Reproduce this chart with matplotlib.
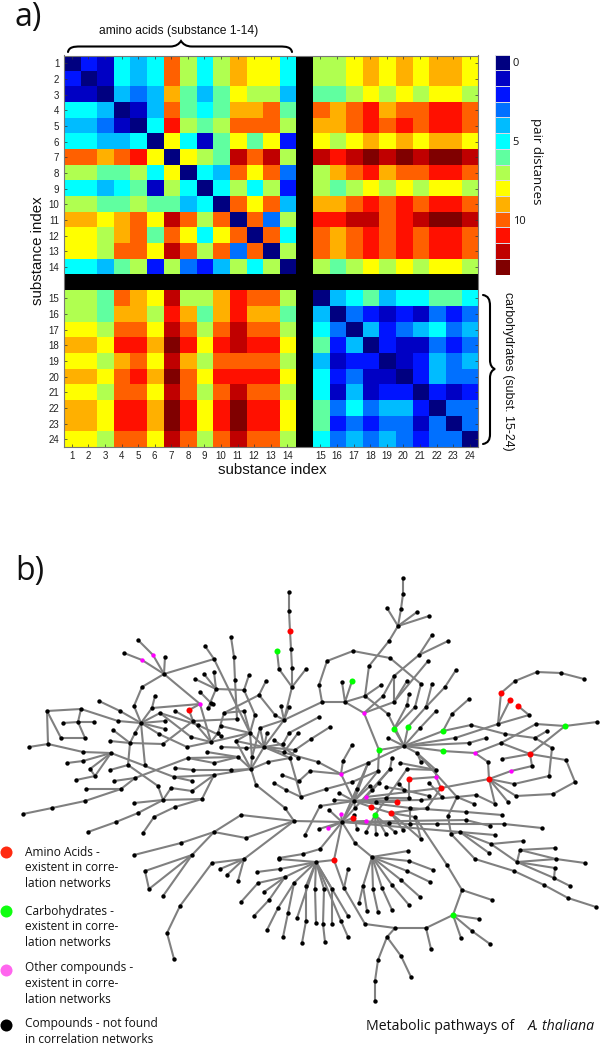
import numpy as np
import matplotlib
matplotlib.use('Agg')
import matplotlib.pyplot as plt
from matplotlib.colors import ListedColormap
from matplotlib.path import Path
from matplotlib.patches import PathPatch

level_colors = ['#000080', '#0000c4', '#0014ff', '#0070ff', '#00bcff', '#00ffff', '#60ffa0',
                '#b0ff50', '#ffff00', '#ffb000', '#ff6000', '#ff1000', '#c00000', '#800000']

amino_amino = [
    [0, 2, 1, 5, 4, 5, 10, 7, 5, 7, 9, 8, 8, 5],
    [2, 0, 1, 5, 4, 5, 10, 7, 5, 7, 9, 8, 8, 5],
    [1, 1, 0, 4, 3, 4, 9, 6, 4, 6, 8, 7, 7, 4],
    [5, 5, 4, 0, 1, 4, 10, 6, 5, 6, 9, 9, 10, 6],
    [4, 4, 3, 1, 0, 5, 11, 7, 6, 7, 10, 10, 10, 7],
    [5, 5, 4, 4, 5, 0, 8, 5, 1, 6, 8, 6, 8, 2],
    [10, 10, 9, 10, 11, 8, 0, 8, 7, 6, 12, 10, 12, 7],
    [7, 7, 6, 6, 7, 5, 8, 0, 5, 4, 10, 8, 10, 3],
    [5, 5, 4, 5, 6, 1, 7, 5, 0, 5, 7, 5, 7, 2],
    [7, 7, 6, 6, 7, 6, 6, 4, 5, 0, 10, 8, 10, 4],
    [9, 9, 8, 9, 10, 8, 12, 10, 7, 10, 0, 10, 3, 7],
    [8, 8, 7, 9, 10, 6, 10, 8, 5, 8, 10, 0, 10, 5],
    [8, 8, 7, 10, 10, 8, 12, 10, 7, 10, 3, 10, 0, 7],
    [5, 5, 4, 6, 7, 2, 7, 3, 2, 4, 7, 5, 7, 0],
]
amino_carb = [
    [7, 7, 8, 9, 8, 9, 8, 9, 9, 8],
    [7, 7, 8, 9, 8, 9, 8, 9, 9, 8],
    [6, 6, 7, 8, 7, 8, 7, 8, 8, 7],
    [10, 9, 10, 11, 9, 10, 10, 11, 11, 10],
    [9, 9, 10, 11, 10, 11, 10, 11, 11, 10],
    [8, 7, 8, 9, 8, 9, 8, 9, 9, 8],
    [12, 11, 12, 13, 12, 13, 12, 13, 13, 12],
    [7, 9, 10, 11, 9, 10, 10, 11, 11, 10],
    [7, 6, 7, 8, 7, 8, 7, 8, 8, 7],
    [9, 9, 10, 11, 10, 11, 10, 11, 11, 10],
    [11, 11, 12, 12, 10, 11, 12, 13, 13, 12],
    [10, 9, 10, 11, 10, 11, 10, 11, 11, 10],
    [10, 9, 10, 11, 10, 11, 10, 11, 11, 10],
    [7, 6, 7, 8, 7, 8, 7, 8, 8, 7],
]
carb_amino = [
    [7, 7, 6, 10, 9, 8, 12, 7, 7, 9, 11, 10, 10, 7],
    [7, 7, 6, 9, 9, 7, 11, 9, 6, 9, 11, 9, 9, 6],
    [8, 8, 7, 10, 10, 8, 12, 10, 7, 10, 12, 10, 10, 7],
    [9, 9, 8, 11, 11, 9, 13, 11, 8, 11, 12, 11, 11, 8],
    [8, 8, 7, 9, 10, 8, 12, 9, 7, 10, 10, 10, 10, 7],
    [9, 9, 8, 10, 11, 9, 13, 10, 8, 11, 11, 11, 11, 8],
    [8, 8, 7, 10, 10, 8, 12, 10, 7, 10, 12, 10, 10, 7],
    [9, 9, 8, 11, 11, 9, 13, 11, 8, 11, 13, 11, 11, 8],
    [9, 9, 8, 11, 11, 9, 13, 11, 8, 11, 13, 11, 11, 8],
    [8, 8, 7, 10, 10, 8, 12, 10, 7, 10, 12, 10, 10, 7],
]
carb_carb = [
    [0, 4, 5, 6, 4, 5, 5, 6, 6, 5],
    [4, 0, 3, 2, 1, 2, 1, 3, 2, 3],
    [5, 3, 0, 4, 2, 3, 4, 5, 3, 4],
    [6, 2, 4, 0, 2, 1, 1, 3, 2, 3],
    [4, 1, 2, 2, 0, 1, 2, 4, 3, 4],
    [5, 2, 3, 1, 1, 0, 2, 4, 3, 3],
    [5, 1, 4, 1, 2, 2, 0, 2, 1, 2],
    [6, 3, 5, 3, 4, 4, 2, 0, 3, 3],
    [6, 2, 3, 2, 3, 3, 1, 3, 0, 3],
    [5, 3, 4, 3, 4, 3, 2, 3, 3, 0],
]
substance_labels = [str(i) for i in range(1, 25)]
colorbar_labels = {0: '0', 5: '5', 10: '10'}

# pathway branches, vertices in pixels
pathways = [
    [(138, 640), (153, 655), (164, 674)],
    [(124, 653), (142, 660), (164, 674)],
    [(165, 657), (164, 674)],
    [(205, 646), (214, 659), (164, 674), (142, 687), (134, 706), (141, 723)],
    [(164, 674), (200, 704), (211, 742)],
    [(214, 659), (250, 733)],
    [(200, 704), (189, 710), (193, 721)],
    [(155, 696), (152, 708), (141, 723)],
    [(152, 708), (200, 704)],
    [(99, 701), (120, 711), (141, 723)],
    [(47, 711), (81, 709), (118, 721), (141, 723)],
    [(81, 709), (78, 722), (85, 738), (61, 738), (47, 711)],
    [(63, 723), (78, 722), (94, 722)],
    [(47, 711), (48, 744), (29, 747)],
    [(48, 744), (83, 752), (111, 753)],
    [(67, 763), (83, 761), (111, 753)],
    [(90, 769), (95, 776), (111, 753)],
    [(90, 769), (111, 753)],
    [(95, 776), (76, 780)],
    [(111, 753), (174, 777), (192, 781)],
    [(174, 777), (214, 775), (251, 769)],
    [(141, 723), (135, 733), (130, 743), (113, 730)],
    [(110, 741), (130, 743), (163, 744)],
    [(130, 743), (128, 765), (110, 770)],
    [(128, 765), (158, 786), (163, 800)],
    [(141, 723), (145, 765)],
    [(141, 723), (159, 734), (187, 747), (211, 742), (250, 733)],
    [(141, 723), (165, 721)],
    [(141, 723), (165, 729)],
    [(141, 723), (160, 713), (191, 737), (211, 742)],
    [(160, 713), (198, 725), (221, 736)],
    [(175, 711), (193, 721), (211, 742)],
    [(163, 744), (193, 721), (237, 719)],
    [(195, 679), (216, 689), (244, 690), (249, 675)],
    [(204, 674), (216, 689)],
    [(214, 672), (216, 689)],
    [(216, 689), (208, 708)],
    [(200, 692), (211, 703)],
    [(213, 704), (208, 708)],
    [(231, 637), (234, 657), (235, 680), (237, 719)],
    [(244, 690), (255, 715), (250, 733)],
    [(266, 681), (259, 695), (224, 713), (218, 733), (211, 742)],
    [(259, 695), (275, 715), (284, 720)],
    [(224, 713), (244, 711), (250, 733)],
    [(221, 726), (250, 733)],
    [(250, 733), (236, 741), (251, 769)],
    [(250, 733), (264, 747)],
    [(236, 741), (264, 747)],
    [(221, 747), (246, 748), (264, 747)],
    [(250, 733), (252, 757), (251, 769)],
    [(251, 769), (231, 770), (193, 770), (175, 768)],
    [(251, 769), (264, 747)],
    [(251, 769), (256, 785), (285, 808), (294, 821)],
    [(188, 758), (238, 757), (251, 769)],
    [(188, 758), (214, 763), (238, 757)],
    [(207, 752), (238, 757)],
    [(188, 758), (135, 778), (121, 789), (86, 789)],
    [(114, 781), (135, 778)],
    [(214, 775), (192, 791), (171, 788), (163, 800)],
    [(214, 775), (202, 799), (163, 800)],
    [(163, 800), (134, 803)],
    [(23, 814), (52, 808), (85, 801), (121, 789)],
    [(202, 799), (175, 807), (154, 817), (143, 833)],
    [(88, 832), (116, 822), (138, 813), (163, 800)],
    # top centre
    [(289, 592), (289, 611), (290, 631), (291, 649), (292, 668), (292, 687), (284, 720)],
    [(277, 651), (279, 669), (292, 687)],
    [(281, 706), (284, 720)],
    [(289, 707), (284, 720)],
    [(306, 669), (292, 687)],
    [(284, 720), (322, 702)],
    [(284, 720), (264, 747)],
    [(284, 720), (260, 728), (252, 757)],
    [(264, 747), (267, 733)],
    [(260, 728), (264, 747)],
    [(319, 717), (289, 733), (283, 744), (264, 747)],
    [(330, 727), (311, 739), (295, 750), (290, 758), (264, 747)],
    [(274, 740), (298, 758)],
    [(298, 733), (284, 752)],
    [(268, 762), (290, 758)],
    [(251, 769), (268, 762)],
    [(264, 747), (295, 750)],
    [(264, 747), (318, 762), (341, 774)],
    [(290, 758), (301, 797)],
    [(310, 771), (341, 774)],
    [(282, 775), (299, 781), (310, 771)],
    [(274, 783), (286, 790), (301, 797)],
    [(352, 745), (343, 761), (341, 774)],
    [(341, 774), (354, 801)],
    [(341, 774), (368, 763), (404, 746)],
    [(368, 763), (354, 801)],
    [(378, 771), (354, 801)],
    # top right tree
    [(403, 578), (403, 594), (401, 609), (398, 626), (389, 641), (369, 666), (365, 696), (345, 702)],
    [(387, 608), (398, 626)],
    [(417, 612), (398, 626)],
    [(429, 616), (398, 626)],
    [(342, 682), (345, 702), (352, 681)],
    [(345, 702), (322, 702), (319, 685), (327, 661), (353, 651), (390, 658), (421, 684), (415, 707), (394, 729)],
    [(345, 702), (364, 713), (379, 750)],
    [(365, 696), (381, 685)],
    [(365, 696), (388, 714), (404, 746)],
    [(448, 641), (419, 655), (432, 635)],
    [(419, 655), (394, 676), (383, 696), (364, 713)],
    [(394, 676), (394, 702), (364, 713)],
    [(428, 661), (394, 702)],
    [(407, 681), (394, 702)],
    [(409, 694), (407, 705), (394, 729)],
    [(432, 684), (426, 707), (408, 727)],
    [(456, 670), (445, 687), (426, 707)],
    [(436, 711), (420, 728), (404, 746)],
    [(394, 729), (404, 746)],
    [(408, 727), (404, 746)],
    [(469, 699), (452, 714), (443, 731), (404, 746)],
    [(443, 731), (471, 725), (505, 734), (535, 738), (552, 748), (549, 776), (514, 784), (489, 779)],
    [(388, 738), (404, 746)],
    [(379, 750), (404, 746)],
    [(379, 750), (378, 771)],
    [(404, 746), (455, 738), (498, 724)],
    [(501, 693), (498, 724)],
    [(510, 700), (498, 724)],
    [(518, 706), (529, 715), (498, 724)],
    [(501, 693), (515, 681), (537, 672), (561, 673), (584, 679)],
    [(404, 746), (443, 751), (475, 753), (501, 743), (536, 724), (565, 726), (597, 722)],
    [(547, 731), (535, 738)],
    [(565, 726), (530, 754), (501, 743)],
    [(530, 754), (502, 759)],
    [(530, 754), (566, 760), (575, 782), (553, 794), (516, 796), (489, 779)],
    [(475, 753), (488, 762), (489, 779)],
    [(489, 779), (511, 771), (532, 766), (530, 754)],
    [(489, 779), (508, 802)],
    [(489, 779), (495, 804)],
    [(489, 779), (441, 788)],
    [(404, 746), (469, 743), (486, 738)],
    [(404, 746), (417, 753), (436, 770)],
    [(417, 753), (421, 762)],
    [(417, 753), (457, 797), (476, 795), (495, 804)],
    [(457, 797), (474, 804)],
    [(457, 797), (448, 816), (451, 834)],
    [(400, 763), (436, 770)],
    [(407, 769), (436, 770)],
    [(436, 770), (436, 777), (441, 788)],
    [(409, 779), (436, 777)],
    [(409, 779), (409, 798)],
    [(441, 788), (427, 808)],
    [(441, 788), (366, 797)],
    [(392, 758), (390, 769), (372, 790)],
    [(301, 797), (326, 789), (352, 782), (378, 771)],
    [(357, 789), (354, 801)],
    [(370, 786), (354, 801)],
    [(379, 783), (366, 797)],
    [(386, 787), (404, 790), (429, 796)],
    [(399, 784), (404, 790)],
    [(429, 783), (442, 797)],
    [(390, 769), (355, 808)],
    [(407, 769), (375, 815)],
    [(368, 763), (342, 822)],
    # centre to right
    [(339, 793), (354, 801)],
    [(334, 800), (354, 801)],
    [(320, 806), (354, 801)],
    [(354, 801), (376, 802), (397, 802)],
    [(354, 801), (386, 798), (409, 798)],
    [(354, 801), (421, 800), (457, 797)],
    [(354, 801), (355, 808), (342, 822)],
    [(354, 801), (342, 822)],
    [(354, 801), (371, 807), (391, 813), (415, 817)],
    [(354, 801), (410, 808), (466, 812), (502, 815)],
    [(427, 808), (391, 813)],
    [(329, 810), (342, 822)],
    [(341, 814), (342, 822)],
    [(353, 818), (342, 822)],
    [(375, 815), (376, 834)],
    [(366, 821), (342, 822)],
    [(342, 822), (389, 823), (410, 824), (437, 824)],
    [(342, 822), (466, 820), (490, 826)],
    [(342, 822), (460, 832), (495, 835)],
    [(294, 821), (342, 822)],
    [(410, 808), (410, 824)],
    [(357, 829), (354, 815)],
    [(366, 832), (375, 815)],
    [(386, 834), (375, 815)],
    [(395, 832), (375, 815)],
    [(403, 830), (391, 813)],
    [(421, 839), (391, 813)],
    [(328, 828), (342, 822)],
    [(319, 829), (342, 822)],
    [(305, 835), (320, 806)],
    [(303, 854), (320, 849), (342, 822)],
    [(279, 858), (303, 854)],
    [(342, 822), (355, 843), (372, 857)],
    [(342, 822), (334, 860), (316, 862)],
    [(334, 860), (344, 888), (365, 924), (395, 928), (426, 928), (453, 915)],
    [(348, 869), (344, 888)],
    [(426, 928), (431, 949)],
    [(395, 928), (387, 937), (378, 960), (375, 981), (375, 1001)],
    [(387, 937), (401, 956), (411, 977)],
    [(453, 915), (479, 919)],
    [(453, 915), (472, 931), (490, 944)],
    [(453, 915), (461, 938)],
    [(453, 915), (462, 890), (447, 865), (415, 817)],
    [(462, 890), (492, 900)],
    [(372, 857), (408, 851)],
    [(372, 857), (409, 861), (433, 870)],
    [(372, 857), (407, 871), (430, 882)],
    [(372, 857), (401, 880), (420, 897)],
    [(372, 857), (392, 885), (409, 905)],
    [(372, 857), (382, 888), (392, 910)],
    [(372, 857), (373, 889), (378, 912)],
    [(372, 857), (363, 886), (367, 911)],
    [(363, 886), (359, 903)],
    [(316, 862), (306, 886), (306, 921), (302, 943)],
    [(316, 862), (315, 889), (316, 923)],
    [(316, 862), (324, 889), (323, 924), (325, 942)],
    [(316, 862), (332, 889), (332, 924)],
    [(316, 862), (341, 921), (348, 937)],
    [(316, 862), (348, 916)],
    [(316, 862), (279, 859)],
    [(316, 862), (280, 869), (257, 872)],
    [(316, 862), (285, 877), (258, 883), (241, 902)],
    [(285, 877), (264, 892)],
    [(285, 877), (269, 900), (254, 916)],
    [(316, 862), (294, 883), (278, 908), (267, 930)],
    [(294, 883), (288, 913), (283, 937)],
    [(316, 862), (297, 918)],
    # lower left tree
    [(134, 855), (181, 843), (214, 832), (241, 815), (294, 821)],
    [(214, 832), (246, 838), (294, 821)],
    [(214, 832), (192, 855), (145, 871), (149, 889), (192, 855)],
    [(192, 855), (163, 896)],
    [(180, 906), (212, 863), (244, 859), (220, 869)],
    [(180, 906), (167, 933), (174, 959)],
    [(244, 859), (227, 875)],
    [(244, 859), (238, 881)],
    [(244, 859), (294, 821)],
    # lower right
    [(451, 834), (460, 832)],
    [(460, 832), (491, 844), (517, 862)],
    [(460, 832), (489, 853)],
    [(451, 834), (475, 859), (514, 871), (544, 885), (568, 898), (596, 907)],
    [(491, 844), (523, 841)],
    [(520, 850), (555, 848)],
    [(520, 850), (556, 859), (585, 863)],
    [(517, 862), (520, 850)],
    [(517, 862), (556, 859)],
    [(517, 862), (555, 868), (554, 878), (517, 862)],
    [(554, 878), (570, 886)],
    [(504, 824), (542, 828)],
    [(437, 824), (504, 824)],
    [(415, 817), (421, 839)],
]

red_nodes = [(290, 631), (189, 710), (501, 693), (510, 700), (518, 706), (530, 754), (489, 779),
             (441, 788), (409, 779), (397, 802), (371, 807), (391, 813), (353, 818), (334, 860)]
green_nodes = [(277, 651), (352, 681), (394, 729), (408, 727), (443, 731), (379, 750), (443, 751),
               (565, 726), (375, 815), (453, 915)]
pink_nodes = [(153, 655), (142, 660), (200, 704), (364, 713), (475, 753), (511, 771), (341, 774),
              (436, 777), (366, 797), (341, 814), (366, 821), (328, 828)]

legend_entries = [
    ('#ff2a10', 852, 'Amino Acids -\nexistent in corre-\nlation networks', 852),
    ('#10ff10', 911, 'Carbohydrates -\nexistent in corre-\nlation networks', 911),
    ('#ff66ee', 970, 'Other compounds -\nexistent in corre-\nlation networks', 968),
    ('#000000', 1025, 'Compounds - not found\nin correlation networks', 1024),
]

W, H = 600, 1045
fig = plt.figure(figsize=(W / 100, H / 100), dpi=100, facecolor='white')


def px_axes(x0, y0, x1, y1):
    return fig.add_axes([x0 / W, 1 - y1 / H, (x1 - x0) / W, (y1 - y0) / H])


# overlay in pixel coordinates
bg = fig.add_axes([0, 0, 1, 1])
bg.set_xlim(0, W)
bg.set_ylim(H, 0)
bg.axis('off')

# heatmap, black row and column between the two groups
matrix = np.block([
    [np.array(amino_amino, float), np.full((14, 1), np.nan), np.array(amino_carb, float)],
    [np.full((1, 25), np.nan)],
    [np.array(carb_amino, float), np.full((10, 1), np.nan), np.array(carb_carb, float)],
])
cmap = ListedColormap(level_colors)
cmap.set_bad('black')

ax = px_axes(63.5, 55.5, 478, 447)
ax.imshow(np.ma.masked_invalid(matrix), cmap=cmap, vmin=-0.5, vmax=13.5, aspect='auto', interpolation='nearest')
tick_pos = list(range(14)) + list(range(15, 25))
ax.set_xticks(tick_pos)
ax.set_yticks(tick_pos)
ax.set_xticklabels(substance_labels, family='Liberation Sans', fontsize=7, color='#222222')
ax.set_yticklabels(substance_labels, family='Liberation Sans', fontsize=7, color='#222222')
ax.tick_params(direction='in', length=2.5, width=0.5, color='#333333', top=True, right=True, pad=3)
for s in ax.spines.values():
    s.set_color('#777777')
    s.set_linewidth(0.8)

# colour bar
cb = px_axes(494.5, 54.5, 510, 274.5)
cb.pcolormesh(np.arange(14)[:, None], cmap=ListedColormap(level_colors), vmin=-0.5, vmax=13.5,
              edgecolors='#d8d8e4', linewidth=0.5)
cb.set_ylim(14, 0)
cb.set_xticks([])
cb.set_yticks([k + 0.5 for k in colorbar_labels])
cb.set_yticklabels(list(colorbar_labels.values()), family='Open Sans', fontsize=8, color='#111111')
cb.yaxis.tick_right()
cb.tick_params(length=0, pad=2)
for s in cb.spines.values():
    s.set_visible(False)

# panel text
bg.text(15, 26, 'a)', family='Open Sans', fontsize=23, color='#111111', ha='left', va='baseline')
bg.text(15, 580, 'b)', family='Open Sans', fontsize=23, color='#111111', ha='left', va='baseline')
bg.text(179, 31, 'amino acids (substance 1-14)', family='Liberation Sans', fontsize=8.7, color='#111111',
        ha='center', va='center')
bg.text(272, 469.5, 'substance index', family='Liberation Sans', fontsize=10.8, color='#111111',
        ha='center', va='center')
bg.text(38, 251, 'substance index', family='Liberation Sans', fontsize=10.8, color='#111111',
        ha='center', va='center', rotation=90)
bg.text(508, 371, 'carbohydrates (subst. 15-24)', family='Liberation Sans', fontsize=8.9, color='#111111',
        ha='center', va='center', rotation=-90)
bg.text(537, 161, 'pair distances', family='Open Sans', fontsize=9.6, color='#111111',
        ha='center', va='center', rotation=-90)

# braces
top_brace = Path([(68, 52), (69, 47), (74, 46.5), (80, 46.5),
                  (110, 46.5), (140, 46.5), (170, 46.5),
                  (176, 46.5), (179, 44), (181, 41),
                  (183, 44), (186, 46.5), (192, 46.5),
                  (220, 46.5), (250, 46.5), (280, 46.5),
                  (286, 46.5), (291, 47), (292, 52)],
                 [1] + [4] * 18)
right_brace = Path([(483, 295), (488, 296), (490, 299), (490, 306),
                    (490, 325), (490, 345), (490, 360),
                    (490, 365), (492, 368), (495, 369),
                    (492, 370), (490, 373), (490, 378),
                    (490, 395), (490, 415), (490, 434),
                    (490, 440), (488, 443), (483, 444)],
                   [1] + [4] * 18)
for brace in (top_brace, right_brace):
    bg.add_patch(PathPatch(brace, fill=False, edgecolor='black', linewidth=1.5, capstyle='round'))

# network
for chain in pathways:
    xs, ys = zip(*chain)
    bg.plot(xs, ys, color='#808080', linewidth=1.5, solid_capstyle='round', solid_joinstyle='round', zorder=2)

colored = set(red_nodes) | set(green_nodes) | set(pink_nodes)
black_nodes = sorted({p for chain in pathways for p in chain} - colored)
bg.scatter(*zip(*black_nodes), s=10, color='black', linewidths=0, zorder=3)
bg.scatter(*zip(*red_nodes), s=19, color='#ff0000', linewidths=0, zorder=4)
bg.scatter(*zip(*green_nodes), s=19, color='#00ff00', linewidths=0, zorder=4)
bg.scatter(*zip(*pink_nodes), s=10, color='#ff00ff', linewidths=0, zorder=4)

# legend
for color, dot_y, label, text_y in legend_entries:
    bg.scatter([6], [dot_y], s=75, color=color, linewidths=0, zorder=4, clip_on=False)
    for i, line in enumerate(label.split('\n')):
        bg.text(25, text_y + i * 15.7, line, family='Open Sans', fontsize=8.6, color='#111111',
                ha='left', va='center')

bg.text(366, 1027, 'Metabolic pathways of', family='Open Sans', fontsize=10.2, color='#111111', ha='left', va='center')
bg.text(528, 1027, 'A. thaliana', family='Open Sans', style='italic', fontsize=10.2, color='#111111', ha='left', va='center')

fig.savefig('out.png', dpi=100, facecolor='white')
